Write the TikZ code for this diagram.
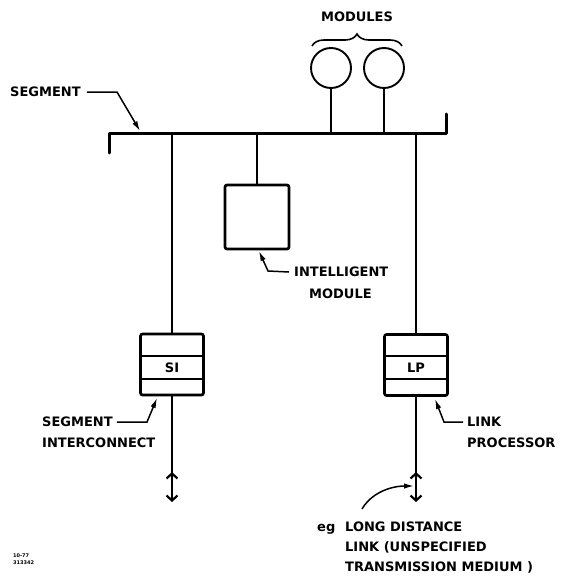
\documentclass[tikz,border=0pt]{standalone}
\usepackage{fontspec}
\setmainfont{DejaVu Sans}
\usetikzlibrary{arrows.meta,decorations.pathreplacing,calc}
\begin{document}
\begin{tikzpicture}[x=1pt,y=-1pt,
  lbl/.style={font=\fontsize{13}{15}\selectfont\bfseries, inner sep=0pt, anchor=west, text height=9.4pt, text depth=0pt},
  tiny/.style={font=\fontsize{5}{6}\selectfont\bfseries, inner sep=0pt, anchor=west},
  busline/.style={line width=3pt, line cap=round, line join=round},
  wire/.style={line width=1.7pt},
  divider/.style={line width=1.2pt},
  heavybox/.style={draw, line width=2.6pt, rounded corners=2pt, minimum width=63pt, minimum height=61pt, inner sep=0pt},
  modcirc/.style={draw, line width=1.9pt, circle, minimum size=40pt, inner sep=0pt},
  leader/.style={line width=1.5pt, -{Latex[length=10pt,width=5.5pt]}},
  barb/.style={line width=1.7pt, -{Straight Barb[length=5pt,width=11pt,line width=2.2pt]}}
]
\useasboundingbox (0,0) rectangle (561,578);

% bus (segment)
\coordinate (bl) at (109,153);
\coordinate (busL) at (109,133);
\coordinate (busR) at (446,133);
\coordinate (br) at (446,114);
\draw[busline] (bl) -- (busL) -- (busR) -- (br);

% modules
\node[modcirc] (m1) at (331,68) {};
\node[modcirc] (m2) at (384,68) {};
\draw[wire] (m1.south) -- (m1.south |- busL);
\draw[wire] (m2.south) -- (m2.south |- busL);
\coordinate (brL) at (312,46);
\coordinate (brR) at (402,46);
\draw[line width=1.6pt, decorate, decoration={brace, amplitude=12pt}] (brL) -- (brR);
\node[lbl, anchor=center] (modl) at (357,17) {MODULES};

% segment label
\node[lbl] (segl) at (10,92) {SEGMENT};
\coordinate (segk) at (117,92);
\coordinate (segt) at (140,131);
\draw[leader] ([xshift=6pt]segl.east) -- (segk) -- (segt);

% intelligent module
\node[heavybox, minimum width=64pt, minimum height=64pt] (im) at (257,217) {};
\draw[wire] (im.north) -- (im.north |- busL);
\node[lbl] (intl) at (294,272) {INTELLIGENT};
\node[lbl] (intl2) at (309,294) {MODULE};
\coordinate (imk) at (268,271);
\coordinate (imt) at (259,251);
\draw[leader] ([xshift=-5pt]intl.west) -- (imk) -- (imt);

% segment interconnect
\node[heavybox] (si) at (172,364.5) {};
\draw[wire] (si.north) -- (si.north |- busL);
\draw[divider] (si.west |- 0,356) -- (si.east |- 0,356);
\draw[divider] (si.west |- 0,379) -- (si.east |- 0,379);
\node[lbl, anchor=center] (sit) at (172,367.5) {SI};
\coordinate (siend) at (172,502);
\coordinate (siup) at (172,472);
\coordinate (siupb) at (172,482);
\draw[barb] (si.south) -- (siend);
\draw[barb] (siupb) -- (siup);
\node[lbl] (sil1) at (42,422) {SEGMENT};
\node[lbl] (sil2) at (42,443) {INTERCONNECT};
\coordinate (sik) at (147,422);
\coordinate (sitp) at (157,398);
\draw[leader] ([xshift=4pt]sil1.east) -- (sik) -- (sitp);

% link processor
\node[heavybox] (lp) at (416,365) {};
\draw[wire] (lp.north) -- (lp.north |- busL);
\draw[divider] (lp.west |- 0,356) -- (lp.east |- 0,356);
\draw[divider] (lp.west |- 0,379) -- (lp.east |- 0,379);
\node[lbl, anchor=center] (lpt) at (416,367.5) {LP};
\coordinate (lpend) at (416,502);
\coordinate (lpup) at (416,472);
\coordinate (lpupb) at (416,482);
\draw[barb] (lp.south) -- (lpend);
\draw[barb] (lpupb) -- (lpup);
\node[lbl] (lpl1) at (467,422) {LINK};
\node[lbl] (lpl2) at (467,443) {PROCESSOR};
\coordinate (lpk) at (444,422);
\coordinate (lptp) at (435,399);
\draw[leader] ([xshift=-4pt]lpl1.west) -- (lpk) -- (lptp);

% long distance link
\coordinate (cs) at (362,509);
\coordinate (ce) at (414,486);
\draw[leader] (cs) .. controls (372,492) and (392,486) .. (ce);
\node[lbl] (eg) at (317,527) {eg};
\node[lbl] (ld1) at (345,527) {LONG DISTANCE};
\node[lbl] (ld2) at (345,547) {LINK (UNSPECIFIED};
\node[lbl] (ld3) at (345,567) {TRANSMISSION MEDIUM )};

% drawing numbers
\node[tiny] (d1) at (13,556) {10-77};
\node[tiny] (d2) at (13,563) {313342};
\end{tikzpicture}
\end{document}
